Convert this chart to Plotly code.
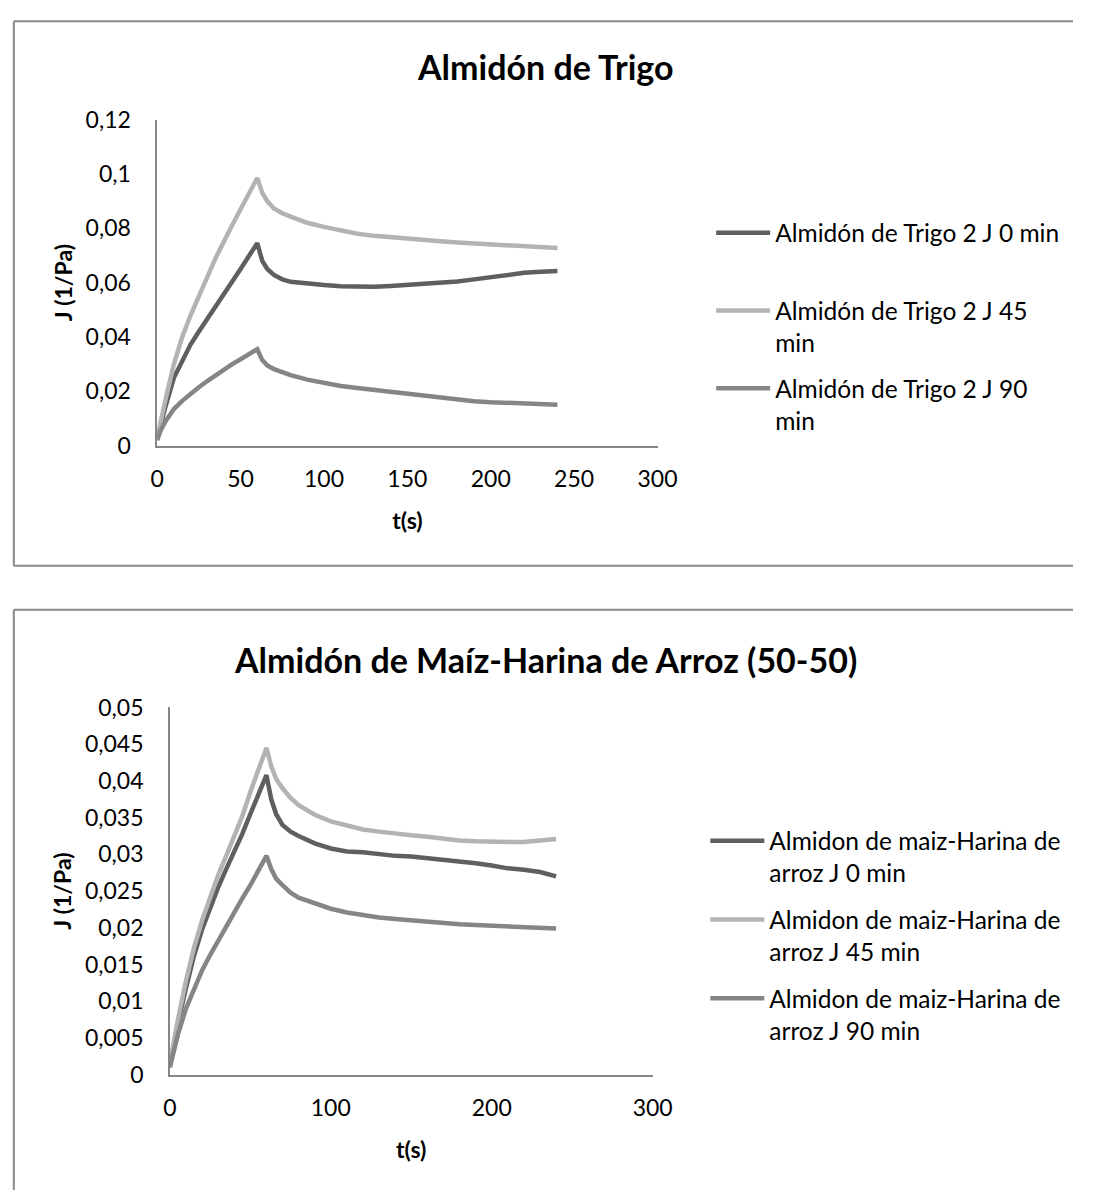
import plotly.graph_objects as go

# ---------------- data ----------------
t_s = [0, 2, 5, 10, 15, 20, 25, 30, 35, 40, 45, 50, 55, 60, 63, 66, 70, 75, 80, 90,
       100, 110, 120, 130, 140, 150, 160, 170, 180, 190, 200, 210, 220, 230, 240]

trigo_0 = [0.003, 0.008, 0.0145, 0.025, 0.0315, 0.0372, 0.042, 0.0465, 0.051, 0.0555,
           0.060, 0.065, 0.0698, 0.0745, 0.068, 0.065, 0.0628, 0.0612, 0.0603, 0.0595,
           0.0591, 0.0587, 0.0585, 0.0585, 0.0588, 0.0592, 0.0595, 0.0600, 0.0604, 0.0612,
           0.0620, 0.0630, 0.0636, 0.0640, 0.0643]
trigo_45 = [0.003, 0.009, 0.017, 0.030, 0.040, 0.048, 0.0555, 0.062, 0.069, 0.0755,
            0.0812, 0.087, 0.0925, 0.0985, 0.093, 0.0900, 0.0873, 0.0855, 0.0843, 0.0820,
            0.0805, 0.0792, 0.0780, 0.0772, 0.0766, 0.0760, 0.0756, 0.0752, 0.0748, 0.0745,
            0.0742, 0.0739, 0.0736, 0.0732, 0.0727]
trigo_90 = [0.002, 0.0055, 0.009, 0.0135, 0.0165, 0.0192, 0.0215, 0.0238, 0.026, 0.028,
            0.030, 0.0318, 0.0335, 0.0355, 0.0315, 0.0295, 0.0282, 0.0270, 0.0260, 0.0243,
            0.0230, 0.0220, 0.0212, 0.0205, 0.0196, 0.0189, 0.0182, 0.0175, 0.0169, 0.0164,
            0.0160, 0.0157, 0.0155, 0.0153, 0.0151]

maiz_0 = [0.0012, 0.0035, 0.007, 0.0118, 0.0162, 0.0198, 0.0228, 0.0255, 0.0280, 0.0303,
          0.0328, 0.0355, 0.0382, 0.0408, 0.0375, 0.0355, 0.0340, 0.0331, 0.0325, 0.0315,
          0.0308, 0.0304, 0.0303, 0.0300, 0.0298, 0.0297, 0.0295, 0.0293, 0.0290, 0.0288,
          0.0285, 0.0281, 0.0279, 0.0276, 0.0270]
maiz_45 = [0.0015, 0.004, 0.0075, 0.0128, 0.0173, 0.0210, 0.0243, 0.0272, 0.0298, 0.0325,
           0.0352, 0.0385, 0.0415, 0.0445, 0.0420, 0.0403, 0.0390, 0.0377, 0.0367, 0.0354,
           0.0345, 0.0339, 0.0334, 0.0331, 0.0328, 0.0326, 0.0324, 0.0321, 0.0319, 0.0318,
           0.0317, 0.0317, 0.0317, 0.0319, 0.0321]
maiz_90 = [0.001, 0.003, 0.0055, 0.0090, 0.0118, 0.0142, 0.0163, 0.0183, 0.0203, 0.0222,
           0.0240, 0.0258, 0.0278, 0.0298, 0.0280, 0.0267, 0.0258, 0.0248, 0.0241, 0.0233,
           0.0226, 0.0221, 0.0217, 0.0214, 0.0212, 0.0210, 0.0208, 0.0206, 0.0205, 0.0204,
           0.0203, 0.0202, 0.0201, 0.0200, 0.0199]

names_top = ["Almidón de Trigo 2 J 0 min<br> ", "Almidón de Trigo 2 J 45<br>min",
             "Almidón de Trigo 2 J 90<br>min"]
names_bot = ["Almidon de maiz-Harina de<br>arroz J 0 min", "Almidon de maiz-Harina de<br>arroz J 45 min",
             "Almidon de maiz-Harina de<br>arroz J 90 min"]

x_top_ticks = [0, 50, 100, 150, 200, 250, 300]
y_top_ticks = [0, 0.02, 0.04, 0.06, 0.08, 0.1, 0.12]
y_top_text = ["0", "0,02", "0,04", "0,06", "0,08", "0,1", "0,12"]
x_bot_ticks = [0, 100, 200, 300]
y_bot_ticks = [0, 0.005, 0.01, 0.015, 0.02, 0.025, 0.03, 0.035, 0.04, 0.045, 0.05]
y_bot_text = ["0", "0,005", "0,01", "0,015", "0,02", "0,025", "0,03", "0,035", "0,04", "0,045", "0,05"]

title_top = "Almidón de Trigo"
title_bot = "Almidón de Maíz-Harina de Arroz (50-50)"

# ---------------- style ----------------
W, H = 1093, 1203
FONT = "Lato"
colors = ["#5f5f5f", "#b3b3b3", "#858585"]
axis_col = "#868686"
frame_col = "#888888"

def px_x(p):
    return p / W

def px_y(p):
    return 1 - p / H

fig = go.Figure()
for i, (ys, nm) in enumerate(zip([trigo_0, trigo_45, trigo_90], names_top)):
    fig.add_trace(go.Scatter(x=t_s, y=ys, mode="lines", name=nm, xaxis="x", yaxis="y",
                             line=dict(color=colors[i], width=4.5), legend="legend",
                             legendgroup="t%d" % i))
for i, (ys, nm) in enumerate(zip([maiz_0, maiz_45, maiz_90], names_bot)):
    fig.add_trace(go.Scatter(x=t_s, y=ys, mode="lines", name=nm, xaxis="x2", yaxis="y2",
                             line=dict(color=colors[i], width=4.5), legend="legend2",
                             legendgroup="m%d" % i))

tickfont = dict(family=FONT, size=23, color="black")
titlefont = dict(family=FONT, size=23, color="black")

common_x = dict(range=[0, 300], showgrid=False, zeroline=False, showline=True,
                linecolor=axis_col, linewidth=1.5, ticks="", tickfont=tickfont,
                fixedrange=True, ticklabelstandoff=12)
common_y = dict(showgrid=False, zeroline=False, showline=True, linecolor=axis_col,
                linewidth=1.5, ticks="", tickfont=tickfont, fixedrange=True,
                ticklabelstandoff=20)

legend_common = dict(xanchor="left", yanchor="top", bgcolor="rgba(0,0,0,0)",
                     font=dict(family=FONT, size=24.5, color="black"),
                     traceorder="grouped", valign="top", itemwidth=54)

def frame_line(x0, y0, x1, y1):
    return dict(type="line", xref="paper", yref="paper", x0=x0, y0=y0, x1=x1, y1=y1,
                line=dict(color=frame_col, width=2))

fig.update_layout(
    width=W, height=H, margin=dict(l=0, r=0, t=0, b=0),
    paper_bgcolor="white", plot_bgcolor="white",
    xaxis=dict(common_x, domain=[px_x(154), px_x(667)], anchor="y",
               tickvals=x_top_ticks, ticktext=[str(v) for v in x_top_ticks],
               title=dict(text="<b>t(s)</b>", font=titlefont, standoff=22)),
    yaxis=dict(common_y, domain=[px_y(441), px_y(107)], anchor="x", range=[0, 0.12],
               tickvals=y_top_ticks, ticktext=y_top_text,
               title=dict(text="<b>J (1/Pa)</b>", font=titlefont, standoff=7)),
    xaxis2=dict(common_x, domain=[px_x(167), px_x(662)], anchor="y2",
                tickvals=x_bot_ticks, ticktext=[str(v) for v in x_bot_ticks],
                title=dict(text="<b>t(s)</b>", font=titlefont, standoff=22)),
    yaxis2=dict(common_y, domain=[px_y(1085), px_y(709)], anchor="x2", range=[0, 0.05],
                tickvals=y_bot_ticks, ticktext=y_bot_text,
                title=dict(text="<b>J (1/Pa)</b>", font=titlefont, standoff=7)),
    legend=dict(legend_common, x=px_x(722), y=px_y(200), tracegroupgap=11),
    legend2=dict(legend_common, x=px_x(716), y=px_y(822.5), tracegroupgap=12),
    showlegend=True,
    annotations=[
        dict(text="<b>%s</b>" % title_top, x=px_x(552), y=px_y(53), xref="paper", yref="paper",
             showarrow=False, xanchor="center", yanchor="middle",
             font=dict(family=FONT, size=34, color="black")),
        dict(text="<b>%s</b>" % title_bot, x=px_x(552), y=px_y(660), xref="paper", yref="paper",
             showarrow=False, xanchor="center", yanchor="middle",
             font=dict(family=FONT, size=34, color="black")),
    ],
    shapes=[
        frame_line(px_x(7), px_y(6.5), 1, px_y(6.5)),
        frame_line(px_x(7), px_y(564), 1, px_y(564)),
        frame_line(px_x(7), px_y(6.5), px_x(7), px_y(564)),
        frame_line(px_x(7), px_y(609), 1, px_y(609)),
        frame_line(px_x(7), px_y(609), px_x(7), 0),
    ],
)

fig.write_html("out.html", config={"displayModeBar": False},
               post_script="document.body.style.margin='0';document.body.style.overflow='hidden';")
